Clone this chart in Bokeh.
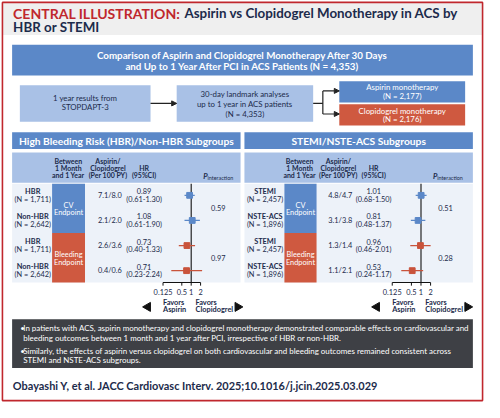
from bokeh.plotting import figure
from bokeh.models import Range1d, LogScale, Arrow, NormalHead
from bokeh.core.properties import value
from bokeh.embed import file_html
from bokeh.resources import INLINE

# ---------------- data ----------------
hbr_labels = ["HBR", "Non-HBR", "HBR", "Non-HBR"]
hbr_n = ["(N = 1,711)", "(N = 2,642)", "(N = 1,711)", "(N = 2,642)"]
hbr_rates = ["7.1/8.0", "2.1/2.0", "2.6/3.6", "0.4/0.6"]
hbr_hr = [0.89, 1.08, 0.73, 0.71]
hbr_lo = [0.61, 0.61, 0.40, 0.23]
hbr_hi = [1.30, 1.90, 1.33, 2.24]
hbr_p = ["0.59", "0.97"]

stemi_labels = ["STEMI", "NSTE-ACS", "STEMI", "NSTE-ACS"]
stemi_n = ["(N = 2,457)", "(N = 1,896)", "(N = 2,457)", "(N = 1,896)"]
stemi_rates = ["4.8/4.7", "3.1/3.8", "1.3/1.4", "1.1/2.1"]
stemi_hr = [1.01, 0.81, 0.96, 0.53]
stemi_lo = [0.68, 0.48, 0.46, 0.24]
stemi_hi = [1.50, 1.37, 2.01, 1.17]
stemi_p = ["0.51", "0.28"]

endpoints = [["CV", "Endpoint"], ["Bleeding", "Endpoint"]]
tick_vals = [0.125, 0.5, 1, 2]
tick_labels = ["0.125", "0.5", "1", "2"]

n_total = "4,353"
n_aspirin = "2,177"
n_clopi = "2,176"

# ---------------- style ----------------
W, H = 484, 402
S = W / 500.0
FONT = "Lato"
BLUE = "#5b88c8"
LIGHT = "#a9c1e6"
BODY = "#edf2f9"
RED = "#cf5940"
SQRED = "#c9533b"
NAVY = "#1c2b4b"
DARK = "#3e4045"
TRED = "#c0272d"
TS = 7.6   # table text size
HS = 7.2   # table header text size

p = figure(width=W, height=H, x_range=Range1d(0, 500), y_range=Range1d(418, 0),
           output_backend="svg", toolbar_location=None, min_border=0)
p.axis.visible = False
p.grid.visible = False
p.outline_line_color = None
p.background_fill_color = "white"


def T(x, y, s, size, color=NAVY, style="normal", align="center", rn="default"):
    p.text(x=[x], y=[y], text=[s], text_font=value(FONT),
           text_font_size=f"{size * S:.2f}px", text_color=color,
           text_font_style=style, text_align=align, text_baseline="middle",
           x_range_name=rn)


def box(l, r, t, b, color, line=None, lw=1):
    p.quad(left=[l], right=[r], top=[t], bottom=[b], fill_color=color,
           line_color=line, line_width=lw)


# frame and header
box(2, 498, 2, 36, "#efefef")
p.quad(left=[2], right=[498], top=[2], bottom=[416], fill_color=None,
       line_color=TRED, line_width=1.6)
T(13, 13.5, "CENTRAL ILLUSTRATION:", 14.5, TRED, "bold", "left")
T(190, 13.5, "Aspirin vs Clopidogrel Monotherapy in ACS by", 13.8, NAVY, "bold", "left")
T(13, 27.4, "HBR or STEMI", 13.8, NAVY, "bold", "left")

# banner
box(12, 488, 46, 78, BLUE)
T(250, 56.2, "Comparison of Aspirin and Clopidogrel Monotherapy After 30 Days", 10.1, "white", "bold")
T(250, 67.6, f"and Up to 1 Year After PCI in ACS Patients (N = {n_total})", 10.1, "white", "bold")

# flow boxes
box(20, 155, 88, 126, LIGHT)
T(87.5, 101.8, "1 year results from", 8.1)
T(87.5, 111.2, "STOPDAPT-3", 8.1)
box(182, 323, 88, 126, LIGHT)
T(252.5, 97, "30-day landmark analyses", 8.1)
T(252.5, 107.3, "up to 1 year in ACS patients", 8.1)
T(252.5, 117.5, f"(N = {n_total})", 8.1)
box(350, 480, 84, 106, BLUE)
T(415, 90.3, "Aspirin monotherapy", 8.1, "white")
T(415, 99.6, f"(N = {n_aspirin})", 8.1, "white")
box(350, 480, 108, 130, RED)
T(415, 114.5, "Clopidogrel monotherapy", 8.1, "white")
T(415, 123.6, f"(N = {n_clopi})", 8.1, "white")

head = dict(size=5, fill_color="#222222", line_color="#222222")
p.add_layout(Arrow(end=NormalHead(**head), x_start=155, y_start=107, x_end=182, y_end=107,
                   line_color="#222222", line_width=1.2))
p.segment(x0=[323, 333], y0=[107, 94], x1=[333, 333], y1=[107, 118],
          line_color="#222222", line_width=1.2)
for yy in (94, 118):
    p.add_layout(Arrow(end=NormalHead(**head), x_start=333, y_start=yy, x_end=350, y_end=yy,
                       line_color="#222222", line_width=1.2))


def panel(name, title, x0, x1, lab_x, blk, c1, c2, c3, line_x, p_hdr, p_x, u,
          labels, ns, rates, hrs, los, his, pvals):
    # log scale for forest plot
    rn = name
    p.extra_x_ranges[rn] = Range1d(2 ** ((0 - line_x) / u), 2 ** ((500 - line_x) / u))
    p.extra_x_scales[rn] = LogScale()

    box(x0, x1, 137, 154.5, BLUE)
    T((x0 + x1) / 2, 145.6, title, 10.6, "white", "bold")
    box(x0, x1, 158, 189.5, LIGHT)
    box(x0, x1, 190.5, 293.3, BODY)
    T(c1, 166.7, "Between", HS, NAVY, "bold")
    T(c1, 174.2, "1 Month", HS, NAVY, "bold")
    T(c1, 181.8, "and 1 Year", HS, NAVY, "bold")
    T(c2, 166.7, "Aspirin/", HS, NAVY, "bold")
    T(c2, 174.2, "Clopidogrel", HS, NAVY, "bold")
    T(c2, 181.8, "(Per 100 PY)", HS, NAVY, "bold")
    T(c3, 174.2, "HR", HS, NAVY, "bold")
    T(c3, 181.8, "(95%CI)", HS, NAVY, "bold")
    T(p_hdr, 182.8, "P", 7.8, NAVY, "bold italic", "left")
    T(p_hdr + 4.4, 184.4, "interaction", 5.6, NAVY, "normal", "left")

    box(blk[0], blk[1], 190.5, 241.8, BLUE)
    box(blk[0], blk[1], 241.8, 293.3, RED)
    bc = (blk[0] + blk[1]) / 2
    for k, (a, b) in enumerate(endpoints):
        yc = 216.8 + 51.5 * k
        T(bc, yc - 4, a, TS, "white")
        T(bc, yc + 4, b, TS, "white")

    ys = [202.6 + 26.1 * i for i in range(4)]
    for i in range(4):
        y = ys[i]
        T(lab_x, y - 4.2, labels[i], TS, NAVY, "bold")
        T(lab_x, y + 4.2, ns[i], TS, NAVY)
        T(c2 + 2, y, rates[i], TS, NAVY)
        T(c3, y - 4.2, f"{hrs[i]:.2f}", TS, NAVY)
        T(c3, y + 4.2, f"({los[i]:.2f}-{his[i]:.2f})", TS, NAVY)
    for k in range(2):
        T(p_x, (ys[2 * k] + ys[2 * k + 1]) / 2, pvals[k], TS, NAVY)

    cols = [BLUE, BLUE, SQRED, SQRED]
    p.segment(x0=[1], x1=[1], y0=[190.5], y1=[293.3], line_color="#111111",
              line_width=1.1, x_range_name=rn)
    p.segment(x0=los, x1=his, y0=ys, y1=ys, line_color=cols, line_width=1.3,
              x_range_name=rn)
    p.scatter(x=hrs, y=ys, marker="square", size=5.8, fill_color=cols,
              line_color=cols, x_range_name=rn)
    # axis
    p.segment(x0=[tick_vals[0]], x1=[tick_vals[-1]], y0=[293.3], y1=[293.3],
              line_color="#111111", line_width=1.1, x_range_name=rn)
    p.segment(x0=tick_vals, x1=tick_vals, y0=[293.3] * 4, y1=[296.5] * 4,
              line_color="#111111", line_width=1, x_range_name=rn)
    p.text(x=tick_vals, y=[302.6] * 4, text=tick_labels, text_font=value(FONT),
           text_font_size=f"{TS * S:.2f}px", text_color=NAVY, text_align="center",
           text_baseline="middle", x_range_name=rn)
    T(tick_vals[0], 314.2, "Favors", TS, NAVY, "bold", "left", rn)
    T(tick_vals[0], 321.8, "Aspirin", TS, NAVY, "bold", "left", rn)
    T(line_x + 4.5, 314.2, "Favors", TS, NAVY, "bold", "left")
    T(line_x + 4.5, 321.8, "Clopidogrel", TS, NAVY, "bold", "left")
    tri_l = line_x - 4 * u - 6
    tri_r = line_x + 48
    p.scatter(x=[tri_l, tri_r], y=[318.6, 318.6], marker="triangle", size=9,
              angle=[1.5708, -1.5708], fill_color="#111111", line_color="#111111")


panel("fL", "High Bleeding Risk (HBR)/Non-HBR Subgroups", 12, 248, 33.3, (53.3, 87.3),
      70, 111, 148.3, 197, 209.5, 225, 9.7,
      hbr_labels, hbr_n, hbr_rates, hbr_hr, hbr_lo, hbr_hi, hbr_p)
panel("fR", "STEMI/NSTE-ACS Subgroups", 252, 488, 273.3, (293.3, 326.5),
      309, 349, 385.5, 434.4, 446.7, 459.7, 9.9,
      stemi_labels, stemi_n, stemi_rates, stemi_hr, stemi_lo, stemi_hi, stemi_p)

# key points box
box(12, 488, 331.5, 382, DARK)
bul = [
    ["In patients with ACS, aspirin monotherapy and clopidogrel monotherapy demonstrated comparable effects on cardiovascular and",
     "bleeding outcomes between 1 month and 1 year after PCI, irrespective of HBR or non-HBR."],
    ["Similarly, the effects of aspirin versus clopidogrel on both cardiovascular and bleeding outcomes remained consistent across",
     "STEMI and NSTE-ACS subgroups."],
]
for k, lines in enumerate(bul):
    y0 = 341 + 23 * k
    T(20.5, y0, "\u2022", 8.2, "white", "normal", "left")
    T(23.5, y0, lines[0], 8.2, "white", "normal", "left")
    T(23.5, y0 + 9.8, lines[1], 8.2, "white", "normal", "left")

T(12.7, 400.7, "Obayashi Y, et al. JACC Cardiovasc Interv. 2025;10.1016/j.jcin.2025.03.029",
  11.3, NAVY, "bold", "left")

open("out.html", "w").write(file_html(p, INLINE))
